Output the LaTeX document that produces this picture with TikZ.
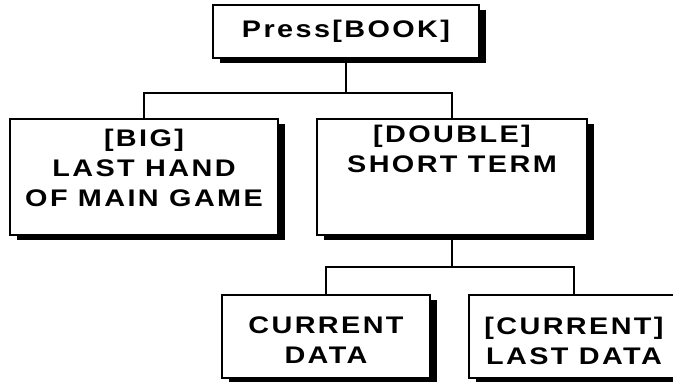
\documentclass[tikz,border=0pt]{standalone}
\usepackage{fontspec}
\usetikzlibrary{shadows}
\newfontfamily\boxfont{Liberation Sans}[LetterSpace=10, FakeStretch=1.2]
\tikzset{
  box/.style={draw=black, line width=1.8pt, fill=white, rectangle, inner sep=0pt,
    drop shadow={shadow xshift=7pt, shadow yshift=-5pt, opacity=1, fill=black}},
  boxtext/.style={inner sep=0pt, align=center,
    font=\boxfont\bfseries\fontsize{24}{30}\selectfont}
}
\begin{document}
\begin{tikzpicture}[x=1pt, y=-1pt]
  \useasboundingbox (0,0) rectangle (673,381);
  % boxes
  \node[box, minimum width=266pt, minimum height=53pt] (top) at (346,31.5) {};
  \node[box, minimum width=268pt, minimum height=116pt] (big) at (144,177) {};
  \node[box, minimum width=270pt, minimum height=116pt] (dbl) at (452,177) {};
  \node[box, minimum width=208pt, minimum height=83pt] (cur) at (326,336.5) {};
  \node[box, minimum width=210pt, minimum height=83pt] (last) at (574,336.5) {};
  % labels
  \node[boxtext] (toptext) at (top.center) {Press[BOOK]};
  \node[boxtext] (bigtext) at ([yshift=9pt]big.center) {[BIG]\\LAST HAND\\OF MAIN GAME};
  \node[boxtext] (dbltext) at ([yshift=9pt]dbl.center) {[DOUBLE]\\SHORT TERM\\\strut};
  \node[boxtext] (curtext) at ([yshift=-4pt]cur.center) {CURRENT\\DATA};
  \node[boxtext] (lasttext) at ([yshift=-4pt]last.center) {[CURRENT]\\LAST DATA};
  % connectors
  \draw[line width=1.8pt] (top.south) -- ++(0,34) -| (big.north);
  \draw[line width=1.8pt] (top.south) -- ++(0,34) -| (dbl.north);
  \draw[line width=1.8pt] (dbl.south) -- ++(0,31) -| (cur.north);
  \draw[line width=1.8pt] (dbl.south) -- ++(0,31) -| (last.north);
\end{tikzpicture}
\end{document}
